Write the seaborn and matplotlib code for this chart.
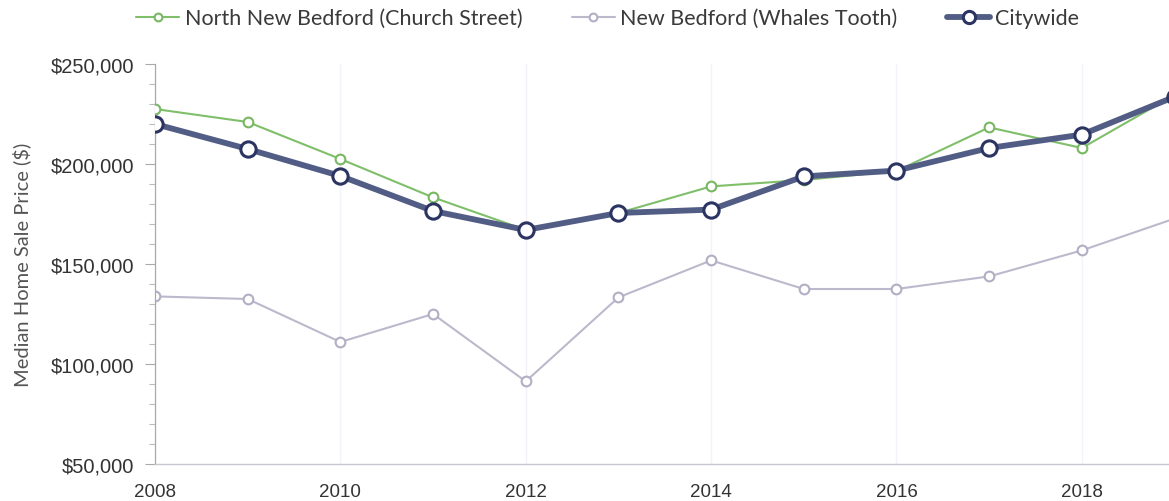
import matplotlib
matplotlib.use("Agg")
import matplotlib.pyplot as plt
import matplotlib.ticker as mticker
import seaborn as sns
import pandas as pd

years = [2008, 2009, 2010, 2011, 2012, 2013, 2014, 2015, 2016, 2017, 2018, 2019]
north_nb = [227500, 221000, 202500, 183300, 167000, 175500, 188800, 192000, 196500, 218300, 208000, 234500]
whales_tooth = [133800, 132500, 111000, 125000, 91300, 133300, 151800, 137500, 137500, 143800, 156800, 172700]
citywide = [220000, 207500, 194000, 176500, 167000, 175500, 177200, 193800, 196700, 208000, 214700, 233600]
series_names = ["North New Bedford (Church Street)", "New Bedford (Whales Tooth)", "Citywide"]
y_ticks = [50000, 100000, 150000, 200000, 250000]
x_ticks = [2008, 2010, 2012, 2014, 2016, 2018]
y_label = "Median Home Sale Price ($)"

df = pd.DataFrame({
    "year": years * 3,
    "price": north_nb + whales_tooth + citywide,
    "series": [series_names[0]] * len(years) + [series_names[1]] * len(years) + [series_names[2]] * len(years),
})

sns.set_style("white")
plt.rcParams["font.family"] = ["Lato", "DejaVu Sans"]

fig = plt.figure(figsize=(11.69, 5.02), dpi=100)
ax = fig.add_axes([155 / 1169, 37 / 502, (1169 - 155) / 1169, 400 / 502])

styles = {
    series_names[1]: dict(color="#bdb8cc", lw=1.5, ms=7, mec="#b3aec4", mew=1.5, z=2),
    series_names[0]: dict(color="#7fbf6a", lw=1.5, ms=7, mec="#78b862", mew=1.5, z=3),
    series_names[2]: dict(color="#525d85", lw=4.2, ms=11, mec="#2c3462", mew=2.2, z=4),
}
for name in [series_names[1], series_names[0], series_names[2]]:
    st = styles[name]
    sub = df[df["series"] == name]
    sns.lineplot(data=sub, x="year", y="price", ax=ax, color=st["color"], lw=st["lw"],
                 marker="o", markersize=st["ms"], markerfacecolor="white",
                 markeredgecolor=st["mec"], markeredgewidth=st["mew"],
                 zorder=st["z"], label=name, legend=False)

ax.set_xlim(2008, 2018.94)
ax.set_ylim(50000, 250000)
ax.set_xticks(x_ticks)
ax.set_yticks(y_ticks)
ax.yaxis.set_minor_locator(mticker.MultipleLocator(10000))
ax.yaxis.set_major_formatter(mticker.FuncFormatter(lambda v, p: f"${int(v):,}"))
ax.set_xlabel("")
ax.set_ylabel(y_label, fontsize=14.5, color="#555555", labelpad=14)

for lab in ax.get_yticklabels():
    lab.set_fontfamily(["Liberation Sans", "DejaVu Sans"])
    lab.set_fontsize(14.5)
    lab.set_color("#333333")
for lab in ax.get_xticklabels():
    lab.set_fontfamily(["Liberation Sans", "DejaVu Sans"])
    lab.set_fontsize(13.5)
    lab.set_color("#333333")

ax.tick_params(axis="y", which="major", length=7, width=0.8, color="#aaaaaa", pad=8, left=True)
ax.tick_params(axis="y", which="minor", length=4, width=0.8, color="#bbbbbb", left=True)
ax.tick_params(axis="x", length=0, pad=14)

ax.grid(axis="x", color="#f4f2f8", lw=1)
ax.grid(axis="y", visible=False)
for s in ["top", "right"]:
    ax.spines[s].set_visible(False)
ax.spines["left"].set_color("#aaaaaa")
ax.spines["left"].set_linewidth(0.9)
ax.spines["bottom"].set_color("#c8c6d4")
ax.spines["bottom"].set_linewidth(1.0)
ax.spines["bottom"].set_linestyle((0, (3, 1)))

handles, labels = ax.get_legend_handles_labels()
order = [labels.index(n) for n in series_names]
leg = fig.legend([handles[i] for i in order], [labels[i] for i in order],
                 loc="center", bbox_to_anchor=(0.52, 0.962), ncol=3, frameon=False,
                 fontsize=15.5, handlelength=2.0, handletextpad=0.25, columnspacing=2.3,
                 markerscale=0.8)
for t in leg.get_texts():
    t.set_color("#3a3a3a")

fig.savefig("out.png", dpi=100)
